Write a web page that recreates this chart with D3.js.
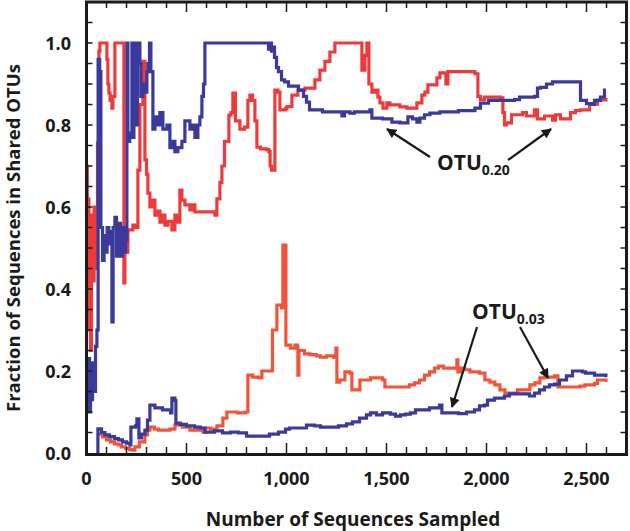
<!DOCTYPE html>
<html><head><meta charset="utf-8">
<script src="https://cdn.jsdelivr.net/npm/d3@7"></script>
<style>body{margin:0;background:#fff}svg{display:block}text{font-family:"Open Sans",sans-serif;font-weight:700;fill:#1a1a1a}</style>
</head><body><svg id="chart" width="630" height="531"></svg>
<script>
const xTicks = [0, 500, 1000, 1500, 2000, 2500];
const xTickLabels = ["0", "500", "1,000", "1,500", "2,000", "2,500"];
const yTicks = [0, 0.2, 0.4, 0.6, 0.8, 1.0];
const yTickLabels = ["0.0", "0.2", "0.4", "0.6", "0.8", "1.0"];
const xTitle = "Number of Sequences Sampled";
const yTitle = "Fraction of Sequences in Shared OTUs";

// OTU 0.20 series
const red20 = [[0,0.70],[4,0.50],[8,0.62],[12,0.30],[16,0.55],[20,0.25],[25,0.58],[30,0.42],[38,0.60],[45,0.45],[50,0.59],[55,0.756],[62,0.98],[67,1.0],[102,0.96],[107,0.90],[112,0.878],[118,0.86],[127,0.841],[132,0.87],[142,1.0],[182,1.0],[187,0.415],[192,0.49],[207,0.544],[232,0.556],[245,0.55],[257,0.69],[267,0.85],[282,0.955],[292,0.715],[300,0.68],[307,0.634],[317,0.60],[327,0.617],[342,0.58],[352,0.59],[367,0.563],[382,0.58],[392,0.556],[407,0.565],[427,0.544],[442,0.58],[457,0.563],[467,0.641],[477,0.617],[492,0.605],[517,0.593],[532,0.605],[542,0.588],[592,0.588],[642,0.58],[652,0.62],[667,0.66],[677,0.70],[690,0.76],[712,0.824],[722,0.83],[732,0.878],[745,0.81],[767,0.79],[790,0.795],[807,0.86],[817,0.873],[830,0.86],[842,0.81],[852,0.746],[870,0.742],[900,0.74],[912,0.735],[918,0.70],[925,0.69],[942,0.885],[957,0.88],[967,0.837],[995,0.84],[1002,0.845],[1027,0.873],[1057,0.885],[1092,0.89],[1117,0.89],[1142,0.91],[1167,0.934],[1192,0.955],[1217,0.978],[1242,1.0],[1377,0.934],[1392,0.97],[1402,1.0],[1412,0.90],[1427,0.88],[1442,0.885],[1457,0.868],[1467,0.854],[1482,0.841],[1502,0.854],[1517,0.849],[1567,0.844],[1602,0.841],[1652,0.854],[1677,0.873],[1692,0.88],[1707,0.898],[1752,0.915],[1767,0.927],[1797,0.90],[1807,0.93],[1942,0.925],[1957,0.87],[1970,0.861],[1990,0.868],[2070,0.866],[2082,0.83],[2090,0.80],[2100,0.805],[2125,0.825],[2180,0.83],[2200,0.822],[2240,0.837],[2255,0.815],[2290,0.822],[2330,0.812],[2345,0.825],[2370,0.815],[2420,0.83],[2445,0.835],[2470,0.837],[2515,0.851],[2555,0.861],[2597,0.866]];
const blue20 = [[0,0.20],[5,0.12],[10,0.23],[15,0.10],[20,0.19],[25,0.13],[30,0.22],[38,0.15],[45,0.26],[52,0.30],[58,0.96],[66,0.93],[72,0.55],[80,0.47],[88,0.53],[95,0.49],[103,0.55],[112,0.51],[120,0.54],[127,0.32],[133,0.55],[142,0.575],[150,0.48],[160,0.56],[170,0.48],[180,0.55],[188,0.49],[196,0.52],[202,1.0],[207,0.76],[216,0.78],[227,1.0],[232,0.77],[237,0.80],[242,1.0],[250,0.80],[255,1.0],[267,0.95],[272,0.87],[282,0.90],[292,0.88],[302,0.93],[307,0.95],[315,1.0],[322,0.93],[332,0.79],[342,0.82],[357,0.80],[367,0.83],[382,0.79],[402,0.80],[417,0.745],[427,0.76],[442,0.735],[457,0.745],[477,0.76],[492,0.81],[517,0.79],[532,0.80],[542,0.77],[557,0.80],[567,0.82],[577,0.87],[585,0.90],[592,1.0],[905,1.0],[910,0.985],[918,1.0],[925,0.98],[932,0.99],[940,0.965],[950,0.94],[960,0.93],[975,0.91],[990,0.905],[1010,0.895],[1060,0.885],[1085,0.87],[1100,0.856],[1115,0.837],[1180,0.832],[1277,0.822],[1290,0.832],[1317,0.829],[1340,0.832],[1417,0.837],[1427,0.817],[1480,0.815],[1527,0.807],[1567,0.805],[1607,0.82],[1630,0.815],[1652,0.807],[1667,0.817],[1690,0.825],[1717,0.829],[1767,0.832],[1860,0.835],[1942,0.841],[1970,0.853],[2010,0.86],[2070,0.86],[2140,0.862],[2165,0.868],[2240,0.87],[2255,0.89],[2270,0.892],[2300,0.90],[2330,0.905],[2460,0.905],[2470,0.86],[2500,0.852],[2525,0.85],[2540,0.86],[2570,0.868],[2590,0.885],[2597,0.885]];

// OTU 0.03 series
const red03 = [[62,0.046],[80,0.039],[100,0.032],[120,0.027],[140,0.022],[160,0.02],[175,0.015],[195,0.012],[215,0.008],[228,0.007],[242,0.015],[265,0.027],[292,0.044],[305,0.056],[317,0.063],[340,0.058],[360,0.056],[417,0.058],[442,0.068],[480,0.063],[517,0.056],[582,0.051],[592,0.061],[620,0.058],[652,0.066],[682,0.085],[702,0.1],[735,0.1],[755,0.098],[795,0.1],[807,0.19],[830,0.185],[860,0.183],[877,0.2],[927,0.202],[930,0.3],[952,0.361],[975,0.354],[982,0.507],[997,0.263],[1020,0.256],[1042,0.263],[1055,0.258],[1057,0.19],[1062,0.25],[1090,0.242],[1117,0.24],[1150,0.237],[1170,0.234],[1200,0.237],[1235,0.234],[1247,0.256],[1252,0.173],[1267,0.178],[1292,0.198],[1317,0.195],[1327,0.154],[1352,0.154],[1367,0.178],[1390,0.178],[1420,0.183],[1480,0.178],[1492,0.161],[1590,0.161],[1615,0.166],[1640,0.171],[1665,0.178],[1690,0.19],[1715,0.198],[1740,0.207],[1760,0.212],[1785,0.207],[1852,0.227],[1857,0.198],[1870,0.207],[1892,0.203],[1917,0.198],[1965,0.195],[1992,0.178],[2017,0.173],[2042,0.166],[2067,0.154],[2092,0.146],[2140,0.146],[2155,0.154],[2200,0.154],[2217,0.166],[2242,0.171],[2267,0.183],[2292,0.185],[2340,0.188],[2357,0.161],[2430,0.161],[2467,0.163],[2492,0.166],[2540,0.17],[2555,0.178],[2597,0.173]];
const blue03 = [[52,0],[57,0.059],[75,0.05],[92,0.044],[115,0.04],[140,0.035],[160,0.032],[180,0.027],[200,0.024],[217,0.02],[222,0.063],[245,0.066],[252,0.083],[262,0.037],[275,0.046],[292,0.056],[305,0.08],[317,0.117],[342,0.11],[380,0.105],[420,0.098],[427,0.134],[442,0.128],[447,0.073],[470,0.07],[500,0.066],[540,0.063],[570,0.061],[592,0.051],[640,0.054],[680,0.049],[720,0.051],[760,0.049],[800,0.041],[870,0.041],[915,0.046],[960,0.051],[995,0.058],[1015,0.061],[1070,0.061],[1100,0.068],[1140,0.066],[1170,0.063],[1220,0.063],[1260,0.066],[1300,0.071],[1330,0.076],[1365,0.085],[1400,0.093],[1420,0.098],[1450,0.093],[1480,0.098],[1520,0.095],[1545,0.090],[1570,0.093],[1595,0.095],[1620,0.098],[1645,0.105],[1690,0.105],[1715,0.11],[1765,0.117],[1777,0.098],[1860,0.096],[1900,0.1],[1940,0.105],[1965,0.115],[1990,0.117],[2005,0.129],[2040,0.134],[2090,0.139],[2115,0.144],[2170,0.144],[2215,0.139],[2240,0.146],[2265,0.154],[2290,0.161],[2315,0.166],[2340,0.168],[2365,0.178],[2400,0.188],[2430,0.2],[2480,0.198],[2495,0.195],[2540,0.19],[2597,0.185]];

const svg = d3.select("#chart");
const x = d3.scaleLinear().domain([0, 2700]).range([86.5, 626.5]);
const y = d3.scaleLinear().domain([0, 1.1]).range([453, 2]);

const line = d3.line().x(d => x(d[0])).y(d => y(d[1])).curve(d3.curveStepAfter);
const RED20 = "#ee3a3a", RED03 = "#f0553a", BLUE = "#3a3a9c";

const g = svg.append("g");
[[red20, RED20], [red03, RED03], [blue20, BLUE], [blue03, BLUE]].forEach(([data, col]) => {
  g.append("path").attr("d", line(data)).attr("fill", "none")
    .attr("stroke", col).attr("stroke-width", 3.2).attr("stroke-linejoin", "miter");
});

// minor / major ticks (inward, on all four sides)
const ax = svg.append("g").attr("stroke", "#1a1a1a").attr("stroke-width", 1.5);
d3.range(100, 2700, 100).forEach(v => {
  const L = v % 500 === 0 ? 10 : 6;
  ax.append("line").attr("x1", x(v)).attr("x2", x(v)).attr("y1", y(0)).attr("y2", y(0) - L);
  ax.append("line").attr("x1", x(v)).attr("x2", x(v)).attr("y1", y(1.1)).attr("y2", y(1.1) + L);
});
d3.range(1, 22).forEach(i => {
  const v = i * 0.05;
  ax.append("line").attr("x1", x(0)).attr("x2", x(0) + 6).attr("y1", y(v)).attr("y2", y(v));
  ax.append("line").attr("x1", x(2700)).attr("x2", x(2700) - 6).attr("y1", y(v)).attr("y2", y(v));
});

// frame
svg.append("rect").attr("x", x(0)).attr("y", y(1.1)).attr("width", x(2700) - x(0)).attr("height", y(0) - y(1.1) + 1.5)
  .attr("fill", "none").attr("stroke", "#1a1a1a").attr("stroke-width", 3);

// tick labels
svg.append("g").selectAll("text").data(xTicks).join("text")
  .attr("x", d => x(d)).attr("y", 485).attr("text-anchor", "middle").attr("font-size", 18)
  .text((d, i) => xTickLabels[i]);
svg.append("g").selectAll("text").data(yTicks).join("text")
  .attr("x", 71).attr("y", d => y(d) + 6.5).attr("text-anchor", "end").attr("font-size", 18)
  .text((d, i) => yTickLabels[i]);

// axis titles
svg.append("text").attr("x", 353).attr("y", 526).attr("text-anchor", "middle").attr("font-size", 19).text(xTitle);
svg.append("text").attr("transform", "translate(20,238) rotate(-90)").attr("text-anchor", "middle").attr("font-size", 18.5).text(yTitle);

// arrows & annotations
const defs = svg.append("defs");
defs.append("marker").attr("id", "ah").attr("viewBox", "0 0 10 10").attr("refX", 9).attr("refY", 5)
  .attr("markerWidth", 11).attr("markerHeight", 10).attr("markerUnits", "userSpaceOnUse").attr("orient", "auto")
  .append("path").attr("d", "M0,0 L10,5 L0,10 z").attr("fill", "#1a1a1a");
const arrows = [[430,157,387,129],[508,160,551,129],[477,327,452,407],[520,327,548,378]];
arrows.forEach(a => svg.append("line").attr("x1", a[0]).attr("y1", a[1]).attr("x2", a[2]).attr("y2", a[3])
  .attr("stroke", "#1a1a1a").attr("stroke-width", 2.2).attr("marker-end", "url(#ah)"));

function otu(xp, yp, sub) {
  const t = svg.append("text").attr("x", xp).attr("y", yp).attr("font-size", 21);
  t.append("tspan").text("OTU");
  t.append("tspan").attr("dy", 5).attr("font-size", 14).text(sub);
}
otu(437, 170, "0.20");
otu(472, 319, "0.03");
</script></body></html>
